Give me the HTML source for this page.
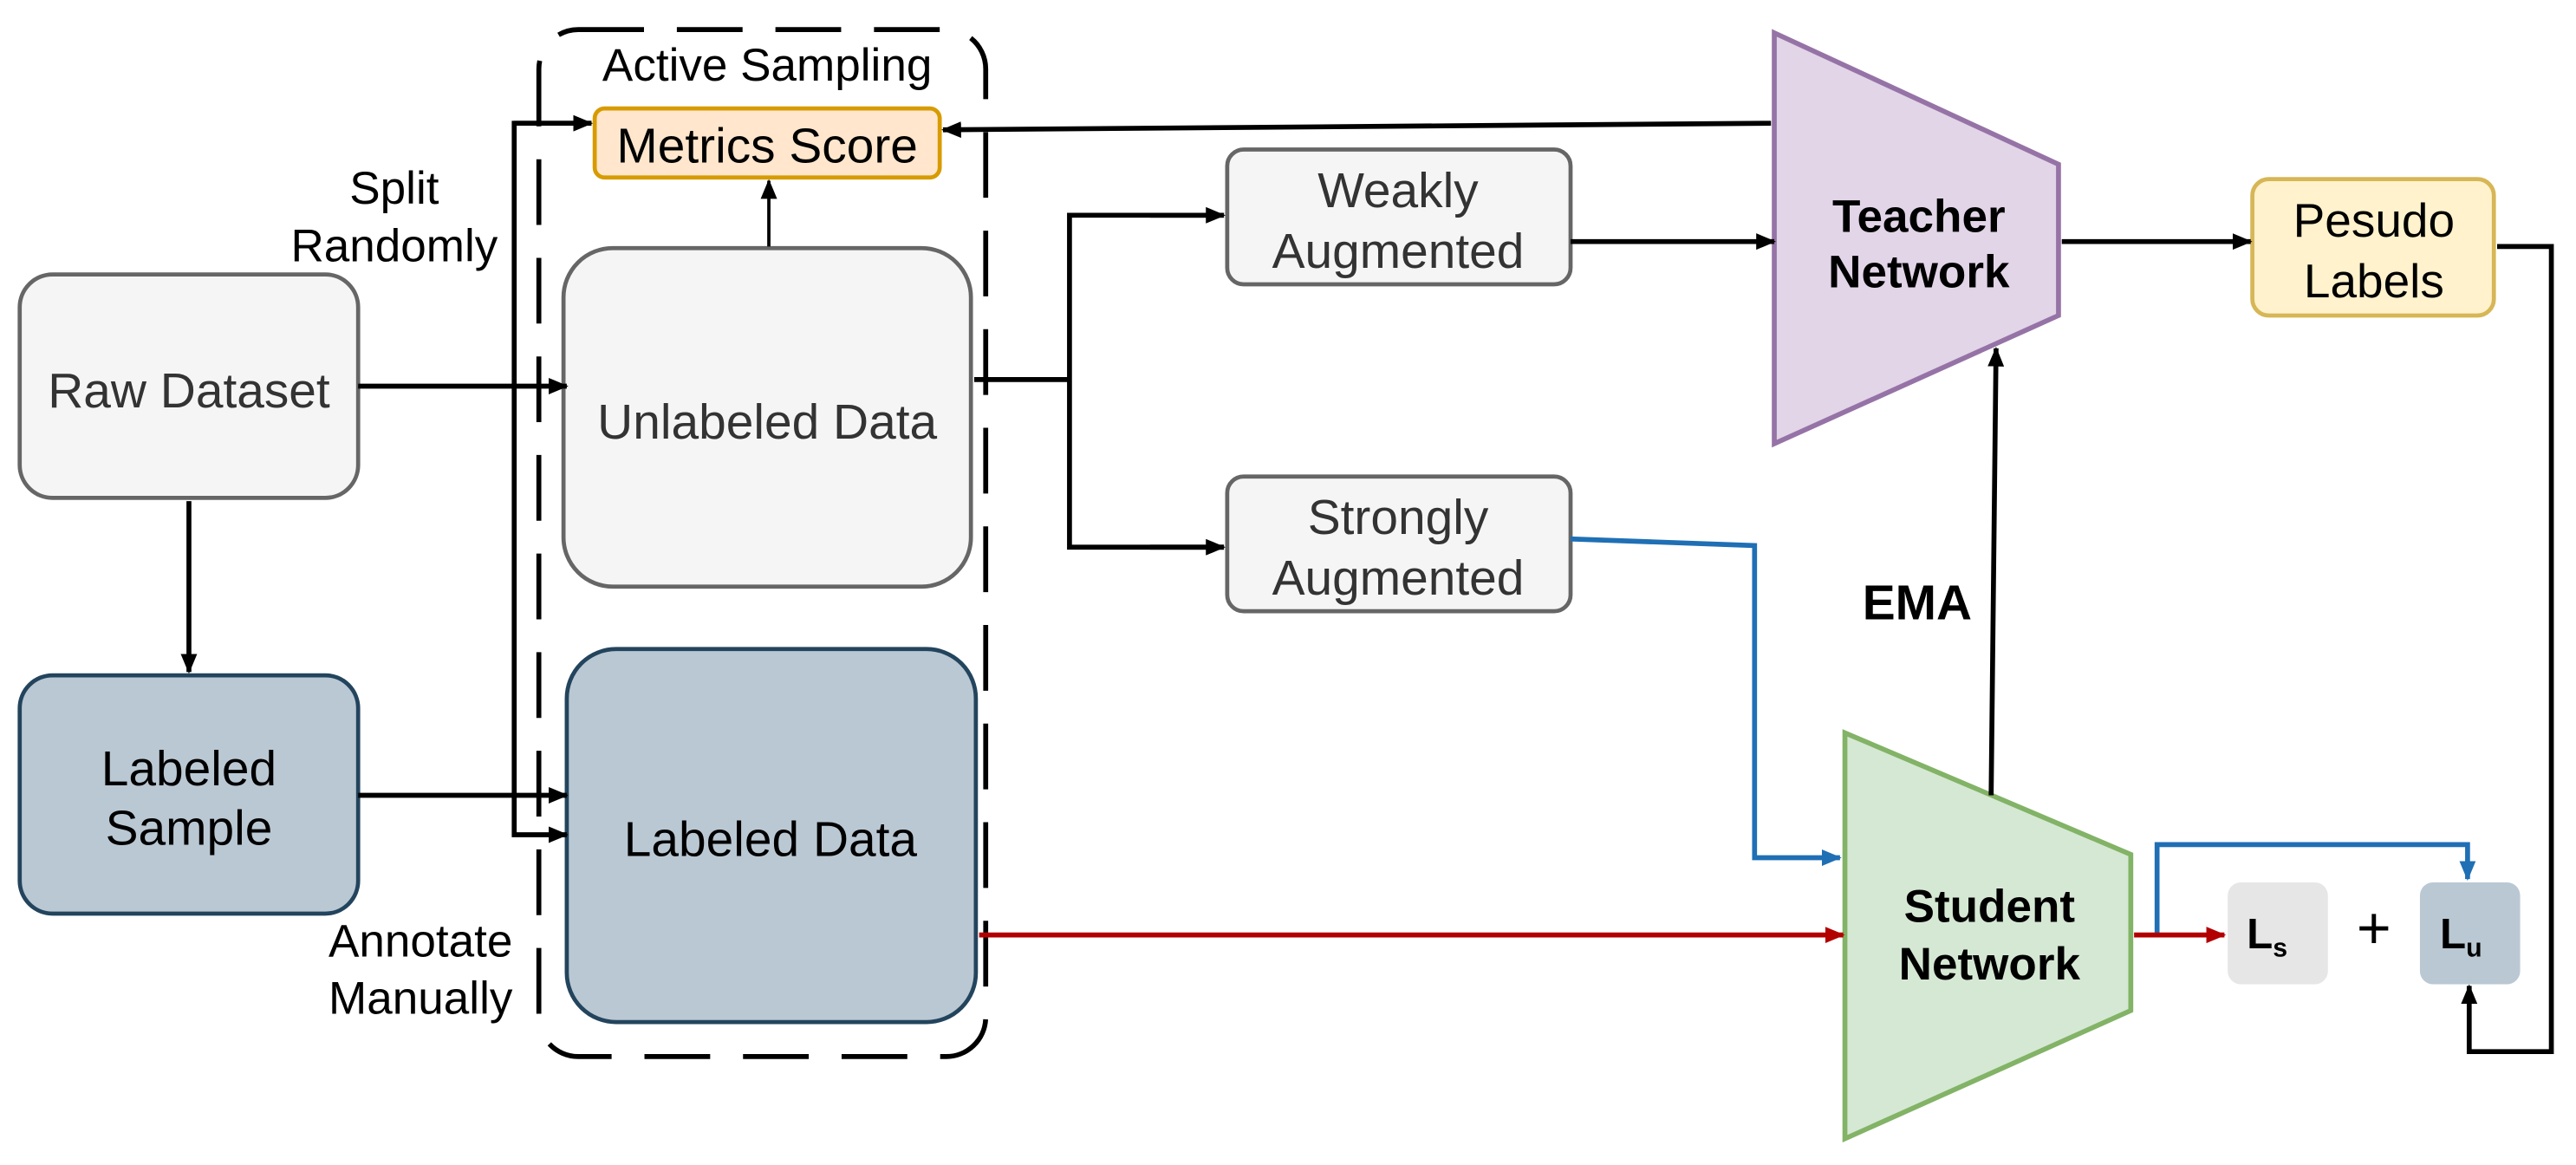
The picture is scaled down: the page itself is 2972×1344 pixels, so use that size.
<!DOCTYPE html>
<html><head><meta charset="utf-8"><style>
html,body{margin:0;padding:0;background:#fff;}
svg{display:block;}
text{font-family:"Liberation Sans",sans-serif;}
</style></head><body>
<svg width="2972" height="1344" viewBox="0 0 1568 709" preserveAspectRatio="none" xmlns="http://www.w3.org/2000/svg">
<defs>
<marker id="ak" markerWidth="12" markerHeight="10" refX="11" refY="5" orient="auto" markerUnits="userSpaceOnUse"><path d="M0,0 L12,5 L0,10 z" fill="#000"/></marker>
<marker id="ab" markerWidth="12" markerHeight="10" refX="11" refY="5" orient="auto" markerUnits="userSpaceOnUse"><path d="M0,0 L12,5 L0,10 z" fill="#1f6fb5"/></marker>
<marker id="ar" markerWidth="12" markerHeight="10" refX="11" refY="5" orient="auto" markerUnits="userSpaceOnUse"><path d="M0,0 L12,5 L0,10 z" fill="#b20000"/></marker>
</defs>
<rect width="1568" height="709" fill="#fff"/>
<rect x="328" y="18" width="272" height="625" rx="24" fill="none" stroke="#000" stroke-width="3" stroke-dasharray="40 20"/>
<text x="467" y="49" font-size="28" text-anchor="middle">Active Sampling</text>
<rect x="12" y="167" width="206" height="136" rx="20" fill="#f5f5f5" stroke="#666" stroke-width="2.5"/>
<text x="115" y="248" font-size="30" text-anchor="middle" fill="#333">Raw Dataset</text>
<rect x="12" y="411" width="206" height="145" rx="20" fill="#bac8d3" stroke="#23445d" stroke-width="2.5"/>
<text x="115" y="478" font-size="30" text-anchor="middle">Labeled</text>
<text x="115" y="514" font-size="30" text-anchor="middle">Sample</text>
<rect x="362" y="66" width="210" height="42" rx="6" fill="#ffe6cc" stroke="#d79b00" stroke-width="2.5"/>
<text x="467" y="99" font-size="30" text-anchor="middle">Metrics Score</text>
<rect x="343" y="151" width="248" height="206" rx="30" fill="#f5f5f5" stroke="#666" stroke-width="2.5"/>
<text x="467" y="267" font-size="30" text-anchor="middle" fill="#333">Unlabeled Data</text>
<rect x="345" y="395" width="249" height="227" rx="30" fill="#bac8d3" stroke="#23445d" stroke-width="2.5"/>
<text x="469" y="521" font-size="30" text-anchor="middle">Labeled Data</text>
<text x="240" y="124" font-size="28" text-anchor="middle">Split</text>
<text x="240" y="159" font-size="28" text-anchor="middle">Randomly</text>
<text x="256" y="582" font-size="28" text-anchor="middle">Annotate</text>
<text x="256" y="617" font-size="28" text-anchor="middle">Manually</text>
<rect x="747" y="91" width="209" height="82" rx="10" fill="#f5f5f5" stroke="#666" stroke-width="2.5"/>
<text x="851" y="126" font-size="30" text-anchor="middle" fill="#333">Weakly</text>
<text x="851" y="163" font-size="30" text-anchor="middle" fill="#333">Augmented</text>
<rect x="747" y="290" width="209" height="82" rx="10" fill="#f5f5f5" stroke="#666" stroke-width="2.5"/>
<text x="851" y="325" font-size="30" text-anchor="middle" fill="#333">Strongly</text>
<text x="851" y="362" font-size="30" text-anchor="middle" fill="#333">Augmented</text>
<polygon points="1080,20 1253,100 1253,192 1080,270" fill="#e1d5e7" stroke="#9673a6" stroke-width="3"/>
<text x="1168" y="141" font-size="28" font-weight="bold" text-anchor="middle">Teacher</text>
<text x="1168" y="175" font-size="28" font-weight="bold" text-anchor="middle">Network</text>
<rect x="1371" y="109" width="147" height="83" rx="10" fill="#fff2cc" stroke="#d6b656" stroke-width="2.5"/>
<text x="1445" y="144" font-size="29" text-anchor="middle">Pesudo</text>
<text x="1445" y="181" font-size="29" text-anchor="middle">Labels</text>
<polygon points="1123,446 1297,520 1297,615 1123,693" fill="#d5e8d4" stroke="#82b366" stroke-width="3"/>
<text x="1211" y="561" font-size="28" font-weight="bold" text-anchor="middle">Student</text>
<text x="1211" y="596" font-size="28" font-weight="bold" text-anchor="middle">Network</text>
<text x="1167" y="377" font-size="30" font-weight="bold" text-anchor="middle">EMA</text>
<rect x="1356" y="537" width="61" height="62" rx="8" fill="#e6e6e6"/>
<text x="1380" y="577" font-size="26" font-weight="bold" text-anchor="middle">L<tspan font-size="16" dy="5">s</tspan></text>
<text x="1445" y="577" font-size="36" text-anchor="middle">+</text>
<rect x="1473" y="537" width="61" height="62" rx="8" fill="#bac8d3"/>
<text x="1498" y="577" font-size="26" font-weight="bold" text-anchor="middle">L<tspan font-size="16" dy="5">u</tspan></text>
<g fill="none" stroke="#000" stroke-width="3">
<line x1="115" y1="305" x2="115" y2="409" marker-end="url(#ak)"/>
<line x1="218" y1="235" x2="345" y2="235" marker-end="url(#ak)"/>
<line x1="218" y1="484" x2="345" y2="484" marker-end="url(#ak)"/>
<polyline points="360,75 313,75 313,508 345,508" marker-end="url(#ak)"/>
<line x1="313" y1="75" x2="360" y2="75" marker-end="url(#ak)"/>
<line x1="468" y1="150" x2="468" y2="110" stroke-width="2" marker-end="url(#ak)"/>
<line x1="1078" y1="75" x2="574" y2="79" marker-end="url(#ak)"/>
<line x1="593" y1="231" x2="651" y2="231"/>
<polyline points="745,131 651,131 651,333 745,333"/>
<line x1="700" y1="131" x2="745" y2="131" marker-end="url(#ak)"/>
<line x1="700" y1="333" x2="745" y2="333" marker-end="url(#ak)"/>
<line x1="956" y1="147" x2="1080" y2="147" marker-end="url(#ak)"/>
<line x1="1255" y1="147" x2="1370" y2="147" marker-end="url(#ak)"/>
<polyline points="1520,150 1553,150 1553,640 1503,640 1503,600" marker-end="url(#ak)"/>
<polyline points="1212,484 1215,212" marker-end="url(#ak)"/>
</g>
<polyline points="956,328 1068,332 1068,522 1120,522" fill="none" stroke="#1f6fb5" stroke-width="3" marker-end="url(#ab)"/>
<polyline points="1313,569 1313,514 1502,514 1502,535" fill="none" stroke="#1f6fb5" stroke-width="3" marker-end="url(#ab)"/>
<line x1="596" y1="569" x2="1122" y2="569" stroke="#b20000" stroke-width="3" marker-end="url(#ar)"/>
<line x1="1299" y1="569" x2="1354" y2="569" stroke="#b20000" stroke-width="3" marker-end="url(#ar)"/>
</svg>
</body></html>
